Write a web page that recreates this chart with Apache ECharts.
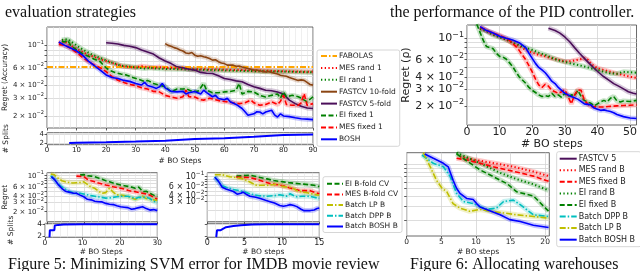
<!DOCTYPE html>
<html><head><meta charset="utf-8">
<script src="https://cdn.jsdelivr.net/npm/echarts@6/dist/echarts.min.js"></script>
<style>html,body{margin:0;padding:0;background:#fff}#c{width:640px;height:271px}</style>
</head><body><div id="c"></div>
<script>
// ---------- Panel A (Fig.5 main): [BO step, regret] ----------
const a_fabolas = [[0,0.061],[90,0.061]];
const a_mesRand = [[4,0.105],[6,0.11],[8,0.1],[10,0.092],[12,0.086],[14,0.08],[16,0.077],[18,0.073],[20,0.07],[22,0.067],[24,0.064],[26,0.062],[28,0.061],[30,0.0605],[32,0.062],[34,0.061],[36,0.06],[38,0.061],[40,0.0595],[42,0.06],[44,0.059],[46,0.059],[48,0.0585],[50,0.058],[55,0.0578],[60,0.0575],[65,0.057],[70,0.0565],[75,0.056],[80,0.0555],[85,0.055],[90,0.0547]];
const a_eiRand = [[5,0.113],[7,0.115],[9,0.105],[11,0.095],[13,0.088],[15,0.082],[17,0.077],[19,0.073],[21,0.069],[23,0.066],[25,0.063],[27,0.062],[29,0.061],[31,0.06],[33,0.059],[35,0.06],[37,0.059],[40,0.0585],[45,0.058],[50,0.0575],[55,0.057],[60,0.0565],[65,0.056],[70,0.0555],[75,0.0552],[80,0.055],[85,0.0545],[90,0.054]];
const a_fast10 = [[40,0.104],[41,0.1],[42,0.098],[43,0.095],[44,0.093],[45,0.09],[46,0.088],[47,0.084],[48,0.083],[49,0.085],[50,0.08],[51,0.078],[52,0.079],[53,0.077],[54,0.076],[55,0.074],[56,0.0714],[57,0.072],[58,0.069],[59,0.067],[60,0.066],[61,0.0637],[62,0.064],[63,0.0637],[64,0.062],[65,0.0625],[66,0.061],[67,0.06],[68,0.059],[69,0.058],[70,0.0569],[71,0.057],[72,0.056],[73,0.055],[74,0.0547],[75,0.055],[76,0.054],[77,0.053],[78,0.052],[79,0.0507],[80,0.05],[81,0.0495],[82,0.048],[83,0.047],[84,0.046],[85,0.045],[86,0.0455],[87,0.045],[88,0.043],[89,0.041],[90,0.0404]];
const a_fast5 = [[20,0.106],[22,0.105],[24,0.103],[26,0.1],[28,0.098],[30,0.095],[32,0.09],[34,0.086],[36,0.082],[38,0.075],[40,0.07],[42,0.066],[44,0.0613],[46,0.06],[48,0.058],[50,0.0569],[52,0.054],[54,0.053],[56,0.0527],[58,0.05],[60,0.047],[62,0.046],[64,0.0445],[66,0.0436],[68,0.041],[70,0.039],[72,0.0375],[74,0.036],[76,0.0355],[78,0.0346],[80,0.033],[82,0.0287],[84,0.0265],[86,0.025],[88,0.024],[90,0.0237]];
const a_eiFixed = [[5,0.11],[6,0.108],[7,0.112],[8,0.1],[10,0.09],[12,0.083],[14,0.078],[16,0.073],[18,0.069],[19,0.064],[20,0.06],[21,0.057],[23,0.054],[25,0.052],[27,0.0507],[29,0.048],[31,0.046],[33,0.044],[34,0.045],[36,0.042],[38,0.0404],[40,0.039],[42,0.0346],[44,0.037],[46,0.037],[47,0.0374],[49,0.035],[51,0.035],[52,0.038],[53,0.042],[54,0.036],[56,0.034],[58,0.034],[60,0.0346],[62,0.035],[64,0.036],[65,0.042],[66,0.033],[68,0.035],[70,0.0346],[72,0.032],[74,0.0308],[76,0.032],[78,0.033],[79,0.03],[80,0.0346],[81,0.031],[83,0.032],[85,0.031],[86,0.03],[88,0.0276],[90,0.031]];
const a_mesFixed = [[4,0.102],[6,0.1],[8,0.0934],[10,0.085],[12,0.076],[14,0.069],[16,0.064],[18,0.06],[20,0.055],[22,0.049],[24,0.0452],[26,0.043],[28,0.041],[30,0.04],[32,0.038],[34,0.037],[36,0.035],[38,0.0346],[40,0.032],[42,0.0308],[44,0.03],[46,0.031],[47,0.036],[48,0.031],[50,0.0308],[52,0.029],[53,0.0287],[55,0.03],[57,0.029],[59,0.028],[61,0.0276],[63,0.027],[65,0.0265],[67,0.027],[69,0.0287],[70,0.027],[72,0.0255],[74,0.026],[76,0.0276],[78,0.026],[79,0.028],[80,0.032],[81,0.026],[83,0.0255],[85,0.0255],[86,0.027],[87,0.0333],[88,0.0255],[90,0.0265]];
const a_bosh = [[4,0.108],[6,0.1],[8,0.094],[10,0.088],[12,0.08],[14,0.07],[16,0.063],[18,0.057],[20,0.051],[22,0.048],[24,0.047],[26,0.045],[28,0.044],[30,0.042],[32,0.0405],[33,0.043],[34,0.04],[36,0.0385],[37,0.0375],[38,0.0388],[39,0.042],[40,0.038],[42,0.035],[44,0.0346],[46,0.035],[47,0.033],[48,0.034],[50,0.035],[52,0.033],[53,0.036],[54,0.034],[56,0.031],[57,0.032],[58,0.0298],[60,0.029],[61,0.03],[62,0.0276],[64,0.026],[66,0.0237],[67,0.022],[68,0.0203],[70,0.021],[71,0.022],[72,0.0219],[73,0.021],[74,0.0219],[76,0.0228],[77,0.0205],[78,0.0195],[79,0.021],[80,0.02],[82,0.0197],[84,0.0192],[86,0.0188],[88,0.0186],[90,0.0184]];
const a_splits = [[7.5,2],[10,2.05],[20,2.15],[30,2.3],[40,2.5],[50,2.9],[60,3.05],[70,3.4],[80,3.8],[90,3.9]];

// ---------- Panel B (Fig.6 top) ----------
const b_bosh = [[4,0.132],[6,0.12],[8,0.113],[10,0.105],[12,0.1],[14,0.096],[16,0.09],[18,0.08],[19,0.07],[20,0.062],[21,0.055],[22,0.05],[23,0.047],[24,0.044],[25,0.04],[26,0.036],[27,0.034],[28,0.031],[29,0.029],[30,0.027],[31,0.026],[32,0.025],[34,0.0235],[36,0.021],[38,0.0205],[39,0.019],[40,0.0185],[41,0.018],[42,0.0182],[43,0.0178],[44,0.0175],[45,0.017],[46,0.0163],[48,0.0155],[50,0.015],[52,0.0148]];
const b_mesFixed = [[4,0.13],[6,0.12],[8,0.113],[10,0.107],[12,0.1],[13,0.095],[14,0.089],[15,0.082],[16,0.075],[17,0.067],[18,0.06],[19,0.052],[20,0.045],[21,0.038],[22,0.033],[23,0.031],[24,0.0335],[25,0.032],[26,0.029],[27,0.028],[28,0.027],[29,0.028],[30,0.0293],[31,0.025],[32,0.021],[33,0.026],[34,0.0293],[35,0.029],[36,0.0228],[37,0.021],[38,0.0197],[40,0.0195],[42,0.0195],[44,0.0198],[46,0.02],[48,0.0202],[50,0.0203],[52,0.0205]];
const b_eiFixed = [[3,0.14],[4,0.115],[5,0.095],[6,0.082],[7,0.08],[8,0.078],[9,0.07],[10,0.065],[11,0.064],[12,0.061],[13,0.056],[14,0.051],[15,0.045],[16,0.04],[17,0.037],[18,0.0343],[19,0.031],[20,0.029],[21,0.0275],[22,0.026],[23,0.025],[24,0.0255],[25,0.025],[26,0.027],[27,0.025],[28,0.026],[29,0.0245],[30,0.027],[31,0.025],[32,0.026],[33,0.0255],[34,0.029],[35,0.025],[36,0.0228],[37,0.022],[38,0.0213],[39,0.02],[40,0.021],[41,0.022],[42,0.0228],[43,0.022],[44,0.024],[45,0.025],[46,0.0225],[47,0.022],[48,0.0225],[50,0.0222],[52,0.0228]];
const b_mesRand = [[4,0.128],[6,0.12],[8,0.11],[10,0.104],[12,0.097],[14,0.089],[16,0.083],[18,0.0757],[20,0.071],[22,0.0673],[24,0.065],[26,0.0621],[28,0.06],[30,0.0573],[32,0.058],[34,0.06],[36,0.0621],[37,0.06],[38,0.0546],[40,0.049],[42,0.047],[44,0.045],[46,0.043],[48,0.0416],[50,0.04],[52,0.039]];
const b_eiRand = [[4,0.125],[6,0.118],[8,0.108],[10,0.102],[12,0.097],[14,0.09],[16,0.085],[18,0.08],[20,0.0757],[22,0.071],[24,0.0673],[26,0.063],[28,0.059],[30,0.057],[32,0.0546],[34,0.053],[36,0.051],[38,0.049],[40,0.047],[42,0.045],[44,0.0433],[46,0.043],[48,0.045],[50,0.0445],[52,0.044]];
const b_fast5 = [[25,0.127],[27,0.12],[28.5,0.113],[30,0.103],[31.5,0.092],[33,0.08],[34.5,0.07],[36,0.062],[37.5,0.055],[39,0.049],[40.5,0.044],[42,0.04],[43.5,0.037],[45,0.034],[46.5,0.032],[48,0.03],[49.5,0.028],[51,0.027],[52,0.0265]];

// ---------- Panel C (Fig.5 bottom left) ----------
const c_bosh = [[1.2,0.0956],[2,0.085],[3,0.068],[4,0.057],[5,0.05],[6,0.048],[7,0.046],[8,0.0455],[9,0.042],[10,0.039],[11,0.0348],[12,0.034],[13,0.032],[14,0.0313],[15,0.031],[16,0.029],[17,0.0279],[18,0.0275],[19,0.026],[20,0.025],[21,0.0245],[22,0.024],[23,0.0223],[24,0.023],[25,0.024],[26,0.025],[27,0.023],[28,0.0215],[29,0.022],[30,0.021]];
const c_dpp = [[1,0.1],[2,0.085],[3,0.07],[4,0.061],[5,0.055],[6,0.05],[7,0.047],[8,0.046],[9,0.0455],[10,0.044],[12,0.041],[14,0.039],[16,0.0367],[17,0.037],[18,0.038],[19,0.039],[20,0.04],[22,0.04],[23,0.038],[24,0.036],[25,0.038],[27,0.038],[28,0.036],[29,0.032],[30,0.03]];
const c_lp = [[1,0.108],[2,0.104],[3,0.09],[4,0.08],[5,0.076],[6,0.074],[7,0.072],[8,0.073],[9,0.074],[10,0.076],[11,0.068],[12,0.06],[13,0.057],[14,0.05],[15,0.0455],[16,0.047],[17,0.057],[18,0.048],[19,0.0425],[20,0.042],[21,0.041],[22,0.04],[23,0.037],[24,0.0348],[25,0.037],[26,0.04],[27,0.036],[28,0.0348],[29,0.034],[30,0.033]];
const c_mes = [[8,0.098],[10,0.096],[11,0.085],[12,0.08],[13,0.076],[14,0.072],[15,0.069],[16,0.066],[17,0.064],[18,0.061],[19,0.059],[20,0.057],[21,0.055],[22,0.052],[23,0.05],[24,0.049],[25,0.047],[26,0.0455],[27,0.044],[28,0.042],[29,0.038],[30,0.035]];
const c_ei = [[9,0.103],[10,0.105],[11,0.1],[12,0.098],[13,0.096],[14,0.09],[15,0.085],[16,0.08],[17,0.076],[18,0.072],[19,0.069],[20,0.066],[21,0.064],[22,0.062],[23,0.06],[24,0.057],[25,0.06],[26,0.049],[27,0.05],[28,0.0455],[29,0.042],[30,0.039]];
const c_splits = [[1.2,1.8],[1.3,3],[2.5,3],[2.6,3.8],[3.5,3.9],[5,3.97],[10,4],[30,4]];

// ---------- Panel D (Fig.5 bottom middle) ----------
const d_bosh = [[1,0.0974],[1.5,0.08],[2,0.06],[2.5,0.055],[3,0.052],[3.5,0.049],[4,0.043],[4.5,0.045],[4.8,0.0476],[5.2,0.043],[5.7,0.039],[6.5,0.037],[7.1,0.0348],[7.8,0.032],[8.4,0.03],[9,0.028],[9.7,0.025],[10.2,0.024],[10.7,0.025],[11.1,0.026],[11.6,0.025],[12,0.0236],[12.5,0.021],[12.9,0.0195],[13.8,0.0195],[14.3,0.02],[14.7,0.0215],[15,0.022]];
const d_dpp = [[1,0.1],[1.5,0.078],[2,0.065],[2.5,0.06],[3,0.057],[3.5,0.054],[4,0.052],[4.8,0.049],[5.5,0.045],[6.2,0.042],[7,0.04],[8,0.039],[9,0.04],[9.7,0.042],[10.3,0.04],[10.6,0.039],[11.1,0.044],[11.6,0.04],[12,0.038],[12.7,0.039],[13.4,0.039],[14,0.038],[15,0.035]];
const d_lp = [[1,0.11],[2,0.11],[3,0.1],[4,0.095],[4.8,0.09],[5.5,0.08],[6.6,0.066],[7.3,0.066],[8,0.066],[8.7,0.068],[9.4,0.07],[10.2,0.062],[11.1,0.06],[11.6,0.056],[12,0.051],[12.7,0.048],[13.4,0.046],[14.2,0.043],[15,0.041]];
const d_mes = [[3.9,0.098],[4.8,0.097],[5.7,0.096],[6.4,0.09],[7.1,0.083],[7.8,0.077],[8.4,0.072],[9,0.069],[9.7,0.067],[10.4,0.063],[11.1,0.058],[11.8,0.054],[12.4,0.051],[13.1,0.051],[13.8,0.051],[14.4,0.047],[15,0.044]];
const d_ei = [[3.9,0.103],[4.8,0.105],[5.7,0.107],[6.4,0.102],[7.1,0.096],[8,0.09],[8.9,0.083],[9.5,0.08],[10.2,0.078],[10.9,0.075],[11.6,0.073],[12.3,0.071],[12.9,0.07],[13.6,0.068],[14.3,0.066],[15,0.062]];
const d_splits = [[1.2,1.8],[1.3,3],[1.8,3],[2,3.3],[2.5,3.5],[3.5,3.7],[4.5,3.85],[6,3.95],[8,4],[15,4]];

// ---------- Panel E (Fig.6 bottom) ----------
const e_bosh = [[2.6,0.135],[3.85,0.119],[5.3,0.103],[6,0.093],[6.7,0.063],[7.2,0.05],[7.7,0.043],[8.7,0.037],[9.6,0.036],[10.1,0.032],[10.6,0.029],[12,0.026],[13.5,0.0231],[14.9,0.0201],[16.4,0.019],[18.3,0.0171],[20.5,0.016]];
const e_lp = [[2.4,0.14],[3.4,0.093],[4.3,0.063],[5.1,0.05],[5.8,0.045],[6.7,0.032],[7.7,0.028],[9.1,0.0256],[10.6,0.027],[12,0.0256],[14,0.0244],[15.9,0.0231],[18.3,0.022],[20.5,0.021]];
const e_dpp = [[2.2,0.131],[3.85,0.103],[5.3,0.093],[6.3,0.07],[7.2,0.043],[8.2,0.034],[9.6,0.032],[11.6,0.027],[13,0.0283],[14,0.034],[15.4,0.0354],[16.4,0.031],[18.3,0.0231],[20.5,0.022]];
const e_mesFixed = [[7.2,0.119],[8.7,0.113],[10.6,0.103],[12.5,0.093],[14.5,0.085],[16.4,0.078],[18.3,0.071],[20.5,0.061]];
const e_mesRand = [[7.7,0.125],[9.6,0.115],[11.6,0.107],[13.5,0.1],[15.4,0.093],[18.3,0.081],[20.5,0.071]];
const e_eiRand = [[7.2,0.14],[10.6,0.103],[13.5,0.078],[15.9,0.065],[18.3,0.056],[20.5,0.047]];
const e_eiFixed = [[7.2,0.135],[10.6,0.085],[12.5,0.07],[14.5,0.057],[15.9,0.045],[18.3,0.04],[20.5,0.0256]];

// ---------- tick labels ----------
const logLabels = [0.02,0.03,0.04,0.06,0.1];
const logTicks = [0.02,0.03,0.04,0.05,0.06,0.07,0.08,0.09,0.1];
const splitLabels = [2,4];

// ---------- build ----------
const L = v => Math.log10(v);
const C = {blue:'#0000ff', red:'#ff0000', green:'#008000', orange:'#ffa500', brown:'#8b4513', purple:'#4b0f5a', cyan:'#00bfbf', yellow:'#bfbf00'};
const DASH = {solid:'solid', dashed:[5,2.5], dotted:[1.3,2.4], dashdot:[6,2,1.5,2]};
const FF = 'DejaVu Sans';
const grids=[], xAxes=[], yAxes=[], series=[];
const gridLine = {color:'#d4d4d4', width:0.8};
const minorLine = {color:'#e4e4e4', width:0.6};
const tickStyle = {color:'#333', width:0.8};

function logFmt(v){
  const val = Math.pow(10, v);
  if (Math.abs(val-0.1) < 1e-6) return '{b|10}{s|−1}';
  return '{b|' + Math.round(val*100) + ' × 10}{s|−2}';
}
function rich(fs){ return {
  b:{fontSize:fs, lineHeight:fs+4, color:'#222', fontFamily:FF},
  s:{fontSize:fs*0.72, lineHeight:fs*0.72, verticalAlign:'top', color:'#222', fontFamily:FF}}; }

function panel(g, x, y){
  grids.push(Object.assign({show:true, borderColor:'#444', borderWidth:0.8, containLabel:false}, g));
  const gi = grids.length-1;
  xAxes.push(Object.assign({type:'value', gridIndex:gi, axisLine:{show:false},
    axisTick:{length:2.5, lineStyle:tickStyle}, splitLine:{show:true, lineStyle:gridLine}}, x));
  yAxes.push(Object.assign({type:'value', gridIndex:gi, axisLine:{show:false},
    axisTick:{length:2.5, lineStyle:tickStyle}, splitLine:{show:true, lineStyle:gridLine}}, y));
  return gi;
}
function logY(lo, hi, fs, show, extra){
  return Object.assign({min:L(lo), max:L(hi),
    axisLabel:{show:show, customValues:logLabels.map(L), formatter:logFmt, rich:rich(fs), margin:3},
    axisTick:{length:2.5, lineStyle:tickStyle, customValues:logTicks.map(L)}}, extra||{});
}
function line(gi, name, data, color, dash, opts){
  opts = opts||{};
  const d = data.map(p => [p[0], opts.lin ? p[1] : L(p[1])]);
  if (opts.band !== false) series.push({type:'line', name:name+' band', xAxisIndex:gi, yAxisIndex:gi, data:d,
    symbol:'none', silent:true, lineStyle:{color:color, width:opts.bw||5, opacity:0.22}, z:1});
  series.push({type:'line', name:name, xAxisIndex:gi, yAxisIndex:gi, data:d, symbol:'none',
    lineStyle:{color:color, width:opts.w||1.6, type:dash, cap:'butt'}, itemStyle:{color:color}, z:3});
}
const nameStyle = fs => ({fontSize:fs, color:'#222', fontFamily:FF});

// A main
const gA = panel({left:47, top:27, width:266, height:101},
  {min:0, max:90, interval:10, axisLabel:{show:false}, minorTick:{show:false, splitNumber:5}, minorSplitLine:{show:true, lineStyle:minorLine}},
  logY(0.0152, 0.152, 7, true, {name:'Regret (Accuracy)', nameLocation:'middle', nameGap:37, nameTextStyle:nameStyle(7.5)}));
line(gA,'FABOLAS',a_fabolas,C.orange,DASH.dashdot,{band:false, w:2});
line(gA,'MES rand 1',a_mesRand,C.red,DASH.dotted,{w:2});
line(gA,'EI rand 1',a_eiRand,C.green,DASH.dotted,{w:2});
line(gA,'FASTCV 10-fold',a_fast10,C.brown,'solid');
line(gA,'FASTCV 5-fold',a_fast5,C.purple,'solid');
line(gA,'EI fixed 1',a_eiFixed,C.green,DASH.dashed);
line(gA,'MES fixed 1',a_mesFixed,C.red,DASH.dashed);
line(gA,'BOSH',a_bosh,C.blue,'solid');
// A splits
const gAs = panel({left:47, top:132.7, width:266, height:12},
  {min:0, max:90, interval:10, axisLabel:{fontSize:7, color:'#222', margin:1.5}, minorTick:{show:false, splitNumber:5}, minorSplitLine:{show:true, lineStyle:minorLine},
   name:'# BO Steps', nameLocation:'middle', nameGap:12, nameTextStyle:nameStyle(7.5)},
  {min:1.6, max:4.3, axisLabel:{customValues:splitLabels, fontSize:7, color:'#222', margin:3}, axisTick:{length:2.5, lineStyle:tickStyle, customValues:splitLabels},
   name:'# Splits', nameLocation:'middle', nameGap:37, nameTextStyle:nameStyle(7.5)});
line(gAs,'BOSH splits',a_splits,C.blue,'solid',{lin:true, band:false, w:2});

// B
const gB = panel({left:467, top:25, width:170, height:100},
  {min:0, max:52, axisLabel:{customValues:[0,10,20,30,40,50], fontSize:11, color:'#222', margin:2},
   axisTick:{length:2.5, lineStyle:tickStyle, customValues:[0,10,20,30,40,50]},
   name:'# BO steps', nameLocation:'middle', nameGap:13, nameTextStyle:nameStyle(11)},
  logY(0.0127, 0.137, 11, true, {name:'Regret (ρ)', nameLocation:'middle', nameGap:47, nameTextStyle:nameStyle(11)}));
line(gB,'B MES rand',b_mesRand,C.red,DASH.dotted,{w:2});
line(gB,'B EI rand',b_eiRand,C.green,DASH.dotted,{w:2});
line(gB,'B FASTCV 5',b_fast5,C.purple,'solid');
line(gB,'B EI fixed',b_eiFixed,C.green,DASH.dashed);
line(gB,'B MES fixed',b_mesFixed,C.red,DASH.dashed);
line(gB,'B BOSH',b_bosh,C.blue,'solid');

// C
const gC = panel({left:45, top:172.7, width:112.3, height:49},
  {min:0, max:30, interval:10, axisLabel:{show:false}, minorTick:{show:false, splitNumber:5}, minorSplitLine:{show:true, lineStyle:minorLine}},
  logY(0.0128, 0.1144, 7, true, {name:'Regret', nameLocation:'middle', nameGap:30, nameTextStyle:nameStyle(7.5)}));
line(gC,'EI B-fold CV',c_ei,C.green,DASH.dashed);
line(gC,'MES B-fold CV',c_mes,C.red,DASH.dashed);
line(gC,'Batch LP B',c_lp,C.yellow,DASH.dashdot);
line(gC,'Batch DPP B',c_dpp,C.cyan,DASH.dashdot);
line(gC,'Batch BOSH B',c_bosh,C.blue,'solid');
const gCs = panel({left:45, top:223.3, width:112.3, height:14},
  {min:0, max:30, interval:10, axisLabel:{fontSize:7.5, color:'#222', margin:2}, minorTick:{show:false, splitNumber:5}, minorSplitLine:{show:true, lineStyle:minorLine},
   name:'# BO Steps', nameLocation:'middle', nameGap:10, nameTextStyle:nameStyle(7.5)},
  {min:1.78, max:4.17, axisLabel:{customValues:splitLabels, fontSize:7.5, color:'#222', margin:3}, axisTick:{length:2.5, lineStyle:tickStyle, customValues:splitLabels},
   name:'# Splits', nameLocation:'middle', nameGap:30, nameTextStyle:nameStyle(7.5)});
line(gCs,'C splits',c_splits,C.blue,'solid',{lin:true, band:false, w:2});

// D
const gD = panel({left:207.3, top:172.7, width:112, height:49},
  {min:0, max:15, interval:5, axisLabel:{show:false}, minorTick:{show:false, splitNumber:5}, minorSplitLine:{show:true, lineStyle:minorLine}},
  logY(0.0114, 0.1213, 8, true));
line(gD,'EI B-fold CV',d_ei,C.green,DASH.dashed);
line(gD,'MES B-fold CV',d_mes,C.red,DASH.dashed);
line(gD,'Batch LP B',d_lp,C.yellow,DASH.dashdot);
line(gD,'Batch DPP B',d_dpp,C.cyan,DASH.dashdot);
line(gD,'Batch BOSH B',d_bosh,C.blue,'solid');
const gDs = panel({left:207.3, top:223.3, width:112, height:14},
  {min:0, max:15, interval:5, axisLabel:{fontSize:8, color:'#222', margin:2}, minorTick:{show:false, splitNumber:5}, minorSplitLine:{show:true, lineStyle:minorLine},
   name:'# BO steps', nameLocation:'middle', nameGap:10, nameTextStyle:nameStyle(7.5)},
  {min:1.78, max:4.17, axisLabel:{show:false}, axisTick:{length:2.5, lineStyle:tickStyle, customValues:splitLabels}});
line(gDs,'D splits',d_splits,C.blue,'solid',{lin:true, band:false, w:2});

// E
const eTicks=[0,5,10,15,20];
const gE = panel({left:406.7, top:152.7, width:142.6, height:83.3},
  {min:0, max:20.6, axisLabel:{customValues:eTicks, fontSize:7.5, color:'#222', margin:2},
   axisTick:{length:2.5, lineStyle:tickStyle, customValues:eTicks},
   name:'# BO steps', nameLocation:'middle', nameGap:12, nameTextStyle:nameStyle(7.5)},
  logY(0.0125, 0.14, 7, false));
series.push({type:'line', name:'FASTCV 5', xAxisIndex:gE, yAxisIndex:gE, data:[], symbol:'none', lineStyle:{color:C.purple, width:1.6}, itemStyle:{color:C.purple}});
line(gE,'MES rand B',e_mesRand,C.red,DASH.dotted,{w:2});
line(gE,'EI rand B',e_eiRand,C.green,DASH.dotted,{w:2});
line(gE,'MES fixed B',e_mesFixed,C.red,DASH.dashed);
line(gE,'EI fixed B',e_eiFixed,C.green,DASH.dashed);
line(gE,'Batch DPP B',e_dpp,C.cyan,DASH.dashdot);
line(gE,'Batch LP B',e_lp,C.yellow,DASH.dashdot);
line(gE,'Batch BOSH B',e_bosh,C.blue,'solid');

function legend(names, left, top, gap, pad, fs, iw){
  return {data:names, orient:'vertical', left:left, top:top, itemGap:gap, itemWidth:iw||16, itemHeight:8,
    padding:pad, borderColor:'#cccccc', borderWidth:0.8, borderRadius:2, backgroundColor:'#fff',
    selectedMode:false, itemStyle:{color:'rgba(0,0,0,0)', borderColor:'rgba(0,0,0,0)', borderWidth:0},
    textStyle:{fontSize:fs, color:'#222', fontFamily:FF, padding:[0,0,0,-3]}};
}

const chart = echarts.init(document.getElementById('c'), null, {renderer:'canvas'});
chart.setOption({
  animation:false,
  textStyle:{fontFamily:FF},
  grid:grids, xAxis:xAxes, yAxis:yAxes, series:series,
  legend:[
    legend(['FABOLAS','MES rand 1','EI rand 1','FASTCV 10-fold','FASTCV 5-fold','EI fixed 1','MES fixed 1','BOSH'], 317, 50, 3.9, [2,4,3,3], 7.5),
    legend(['EI B-fold CV','MES B-fold CV','Batch LP B','Batch DPP B','Batch BOSH B'], 323, 176.7, 2.7, [3,4,2,3], 7.5),
    legend(['FASTCV 5','MES rand B','MES fixed B','EI rand B','EI fixed B','Batch DPP B','Batch LP B','Batch BOSH B'], 556.7, 151.7, 3.57, [3,6,3,2], 8, 17)
  ],
  graphic:[
    {type:'text', left:5, top:5, style:{text:'evaluation strategies', font:'16px "Liberation Serif"', fill:'#111'}},
    {type:'text', left:390, top:5, style:{text:'the performance of the PID controller.', font:'16px "Liberation Serif"', fill:'#111'}},
    {type:'text', left:8, top:257, style:{text:'Figure 5: Minimizing SVM error for IMDB movie review', font:'16px "Liberation Serif"', fill:'#111'}},
    {type:'text', left:410, top:257, style:{text:'Figure 6: Allocating warehouses', font:'16px "Liberation Serif"', fill:'#111'}}
  ]
});
</script></body></html>
